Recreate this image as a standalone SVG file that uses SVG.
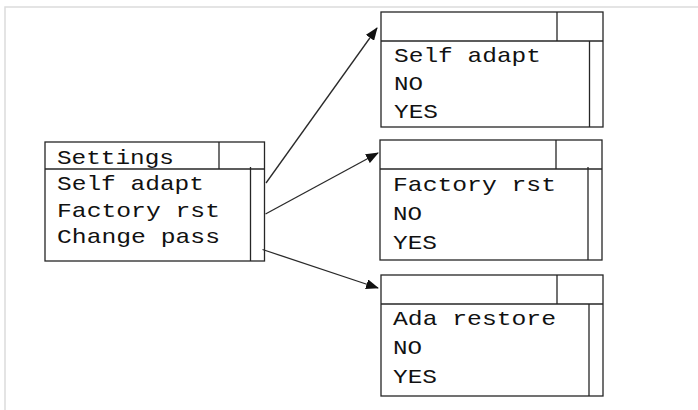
<svg xmlns="http://www.w3.org/2000/svg" width="698" height="410" viewBox="0 0 698 410">
  <style>
    .frame { fill: none; stroke: #dcdcdc; stroke-width: 1.5; }
    .box { fill: #ffffff; stroke: #262626; stroke-width: 1.3; }
    .ln { stroke: #262626; stroke-width: 1.3; fill: none; }
    .conn { stroke: #2a2a2a; stroke-width: 1.3; fill: none; marker-end: url(#arrow); }
    .t { font-family: "Liberation Mono", "Courier New", monospace; font-size: 21px; fill: #111111; }
  </style>
  <defs>
    <marker id="arrow" markerUnits="userSpaceOnUse" markerWidth="13" markerHeight="10" viewBox="0 0 13 10" refX="12" refY="5" orient="auto">
      <path d="M0,0 L13,5 L0,10 Z" fill="#111111"/>
    </marker>
  </defs>

  <rect width="698" height="410" fill="#ffffff"/>
  <path class="frame" d="M5,420 V7 H700"/>

  <!-- main menu -->
  <g id="settings">
    <rect class="box" x="45" y="142" width="219.5" height="119"/>
    <line class="ln" x1="45" y1="169" x2="264.5" y2="169"/>
    <line class="ln" x1="219" y1="142" x2="219" y2="169"/>
    <line class="ln" x1="250.5" y1="167" x2="250.5" y2="261"/>
    <text class="t" x="57" y="164" textLength="117" lengthAdjust="spacingAndGlyphs">Settings</text>
    <text class="t" x="57" y="190" textLength="147" lengthAdjust="spacingAndGlyphs">Self adapt</text>
    <text class="t" x="57" y="217" textLength="163" lengthAdjust="spacingAndGlyphs">Factory rst</text>
    <text class="t" x="57" y="243" textLength="163" lengthAdjust="spacingAndGlyphs">Change pass</text>
  </g>

  <!-- sub menu: self adapt -->
  <g id="self-adapt">
    <rect class="box" x="381" y="12" width="222" height="115"/>
    <line class="ln" x1="381" y1="41" x2="603" y2="41"/>
    <line class="ln" x1="557" y1="12" x2="557" y2="41"/>
    <line class="ln" x1="589.5" y1="41" x2="589.5" y2="127"/>
    <text class="t" x="394" y="62" textLength="147" lengthAdjust="spacingAndGlyphs">Self adapt</text>
    <text class="t" x="394" y="90" textLength="29" lengthAdjust="spacingAndGlyphs">NO</text>
    <text class="t" x="394" y="118" textLength="44" lengthAdjust="spacingAndGlyphs">YES</text>
  </g>

  <!-- sub menu: factory reset -->
  <g id="factory-rst">
    <rect class="box" x="380" y="140" width="222" height="120"/>
    <line class="ln" x1="380" y1="169" x2="602" y2="169"/>
    <line class="ln" x1="556" y1="140" x2="556" y2="169"/>
    <line class="ln" x1="588" y1="167" x2="588" y2="260"/>
    <text class="t" x="393" y="191" textLength="163" lengthAdjust="spacingAndGlyphs">Factory rst</text>
    <text class="t" x="393" y="220" textLength="29" lengthAdjust="spacingAndGlyphs">NO</text>
    <text class="t" x="393" y="249" textLength="44" lengthAdjust="spacingAndGlyphs">YES</text>
  </g>

  <!-- sub menu: ada restore -->
  <g id="ada-restore">
    <rect class="box" x="381" y="275" width="222" height="121"/>
    <line class="ln" x1="381" y1="304" x2="603" y2="304"/>
    <line class="ln" x1="557" y1="275" x2="557" y2="304"/>
    <line class="ln" x1="589" y1="304" x2="589" y2="396"/>
    <text class="t" x="393" y="325" textLength="163" lengthAdjust="spacingAndGlyphs">Ada restore</text>
    <text class="t" x="393" y="354" textLength="29" lengthAdjust="spacingAndGlyphs">NO</text>
    <text class="t" x="393" y="383" textLength="44" lengthAdjust="spacingAndGlyphs">YES</text>
  </g>

  <!-- connectors -->
  <g id="connectors">
    <line class="conn" x1="266" y1="183" x2="377" y2="28"/>
    <line class="conn" x1="265.5" y1="214" x2="378" y2="153"/>
    <line class="conn" x1="262.5" y1="249.5" x2="378" y2="288"/>
  </g>
</svg>
